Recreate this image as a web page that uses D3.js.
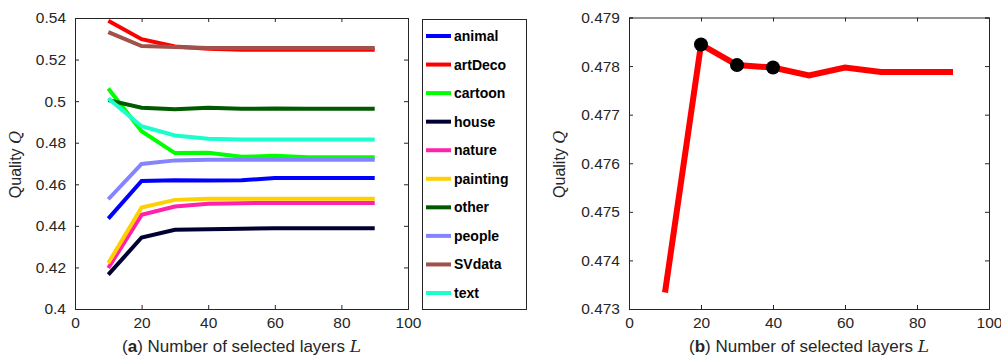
<!DOCTYPE html>
<html>
<head>
<meta charset="utf-8">
<script src="https://cdn.jsdelivr.net/npm/d3@7"></script>
<style>
  body { margin: 0; background: #fff; }
  svg { display: block; font-family: "Liberation Sans", Arial, sans-serif; }
  .tick text { font-size: 15.5px; fill: #262626; }
</style>
</head>
<body>
<svg id="chart" width="1001" height="358"></svg>
<script>
// x positions (number of selected layers)
const layers = [10, 20, 30, 40, 50, 60, 70, 80, 90];

// panel (a): quality per category
const categories = ['animal', 'artDeco', 'cartoon', 'house', 'nature', 'painting', 'other', 'people', 'SVdata', 'text'];
const colors = ['#0000ff', '#ff0000', '#00ff00', '#000033', '#ff22aa', '#ffd000', '#005a00', '#8484ff', '#a0524a', '#1affcc'];
const animal   = [0.4435, 0.4616, 0.4619, 0.4618, 0.4619, 0.4630, 0.4630, 0.4630, 0.4630];
const artDeco  = [0.5387, 0.5298, 0.5263, 0.5252, 0.5247, 0.5247, 0.5247, 0.5247, 0.5247];
const cartoon  = [0.5061, 0.4855, 0.4750, 0.4752, 0.4732, 0.4737, 0.4730, 0.4730, 0.4730];
const house    = [0.4165, 0.4344, 0.4381, 0.4384, 0.4386, 0.4388, 0.4388, 0.4388, 0.4388];
const nature   = [0.4197, 0.4453, 0.4493, 0.4506, 0.4509, 0.4510, 0.4510, 0.4510, 0.4510];
const painting = [0.4221, 0.4488, 0.4525, 0.4530, 0.4531, 0.4531, 0.4531, 0.4531, 0.4531];
const other    = [0.5005, 0.4968, 0.4961, 0.4968, 0.4963, 0.4965, 0.4963, 0.4963, 0.4963];
const people   = [0.4528, 0.4698, 0.4715, 0.4718, 0.4718, 0.4718, 0.4718, 0.4718, 0.4718];
const svdata   = [0.5332, 0.5265, 0.5260, 0.5256, 0.5256, 0.5256, 0.5256, 0.5256, 0.5256];
const text     = [0.5013, 0.4879, 0.4835, 0.4819, 0.4816, 0.4816, 0.4816, 0.4816, 0.4816];
const seriesA = [animal, artDeco, cartoon, house, nature, painting, other, people, svdata, text];

// panel (b): overall quality, with highlighted points
const overall = [0.47334, 0.478445, 0.47802, 0.47797, 0.47781, 0.47797, 0.47788, 0.47788, 0.47788];
const highlighted = [20, 30, 40];

const yTicksA = [0.4, 0.42, 0.44, 0.46, 0.48, 0.5, 0.52, 0.54];
const yTicksB = [0.473, 0.474, 0.475, 0.476, 0.477, 0.478, 0.479];
const xTicks = [0, 20, 40, 60, 80, 100];

const svg = d3.select('#chart');
const axisColor = '#262626';

function drawFrame(g, x, y, yTicks, yFmt) {
  const [x0, x1] = x.range();
  const [y0, y1] = y.range();
  const tl = 4;

  const bottom = g.append('g').attr('transform', `translate(0,${y0})`)
    .call(d3.axisBottom(x).tickValues(xTicks).tickSize(-tl).tickPadding(8).tickFormat(d3.format('d')));
  const top = g.append('g').attr('transform', `translate(0,${y1})`)
    .call(d3.axisTop(x).tickValues(xTicks).tickSize(-tl).tickFormat(''));
  const left = g.append('g').attr('transform', `translate(${x0},0)`)
    .call(d3.axisLeft(y).tickValues(yTicks).tickSize(-tl).tickPadding(9).tickFormat(yFmt));
  const right = g.append('g').attr('transform', `translate(${x1},0)`)
    .call(d3.axisRight(y).tickValues(yTicks).tickSize(-tl).tickFormat(''));

  [bottom, top, left, right].forEach(a => {
    a.select('.domain').attr('stroke', axisColor).attr('stroke-width', 1);
    a.selectAll('.tick line').attr('stroke', axisColor);
    a.selectAll('.tick text').attr('font-family', null).attr('font-size', null);
  });
}

function addLabels(g, x, y, letter, yLabelX) {
  const [x0, x1] = x.range();
  const [y0, y1] = y.range();
  const xl = g.append('text')
    .attr('x', (x0 + x1) / 2)
    .attr('y', 352)
    .attr('text-anchor', 'middle')
    .attr('font-size', 17)
    .attr('fill', axisColor);
  xl.append('tspan').text('(');
  xl.append('tspan').attr('font-weight', 'bold').text(letter);
  xl.append('tspan').text(') Number of selected layers ');
  xl.append('tspan').attr('font-family', '"DejaVu Serif", "Liberation Serif", serif').attr('font-style', 'italic').text('L');

  const yl = g.append('text')
    .attr('transform', `translate(${yLabelX},${(y0 + y1) / 2 + 1}) rotate(-90)`)
    .attr('text-anchor', 'middle')
    .attr('font-size', 16)
    .attr('fill', axisColor);
  yl.append('tspan').text('Quality ');
  yl.append('tspan').attr('font-family', '"DejaVu Serif", "Liberation Serif", serif').attr('font-style', 'italic').text('Q');
}

// ---- panel (a)
const xA = d3.scaleLinear().domain([0, 100]).range([75, 408]);
const yA = d3.scaleLinear().domain([0.4, 0.54]).range([309, 18]);
const gA = svg.append('g');
drawFrame(gA, xA, yA, yTicksA, d => String(+d.toFixed(2)));

const lineA = d3.line().x((d, i) => xA(layers[i])).y(d => yA(d));
gA.append('g').selectAll('path')
  .data(seriesA)
  .join('path')
  .attr('d', lineA)
  .attr('fill', 'none')
  .attr('stroke', (d, i) => colors[i])
  .attr('stroke-width', 4);

addLabels(gA, xA, yA, 'a', 21);

// legend
const legend = svg.append('g');
const legY = d3.scalePoint().domain(categories).range([36, 293]);
legend.append('rect')
  .attr('x', 422.5).attr('y', 19.5)
  .attr('width', 104).attr('height', 290)
  .attr('fill', '#fff').attr('stroke', axisColor).attr('stroke-width', 1);
const items = legend.selectAll('g.item')
  .data(categories)
  .join('g')
  .attr('class', 'item')
  .attr('transform', d => `translate(0,${legY(d)})`);
items.append('line')
  .attr('x1', 426).attr('x2', 451)
  .attr('stroke', (d, i) => colors[i])
  .attr('stroke-width', 4);
items.append('text')
  .attr('x', 454).attr('dy', '0.36em')
  .attr('font-size', 14)
  .attr('font-weight', 'bold')
  .attr('fill', '#000')
  .text(d => d);

// ---- panel (b)
const xB = d3.scaleLinear().domain([0, 100]).range([629, 989]);
const yB = d3.scaleLinear().domain([0.473, 0.479]).range([309, 17.5]);
const gB = svg.append('g');
drawFrame(gB, xB, yB, yTicksB, d3.format('.3f'));

const lineB = d3.line().x((d, i) => xB(layers[i])).y(d => yB(d));
gB.append('path')
  .datum(overall)
  .attr('d', lineB)
  .attr('fill', 'none')
  .attr('stroke', '#ff0000')
  .attr('stroke-width', 6);

gB.selectAll('circle')
  .data(highlighted)
  .join('circle')
  .attr('cx', d => xB(d))
  .attr('cy', d => yB(overall[layers.indexOf(d)]))
  .attr('r', 7)
  .attr('fill', '#000');

addLabels(gB, xB, yB, 'b', 565);
</script>
</body>
</html>
